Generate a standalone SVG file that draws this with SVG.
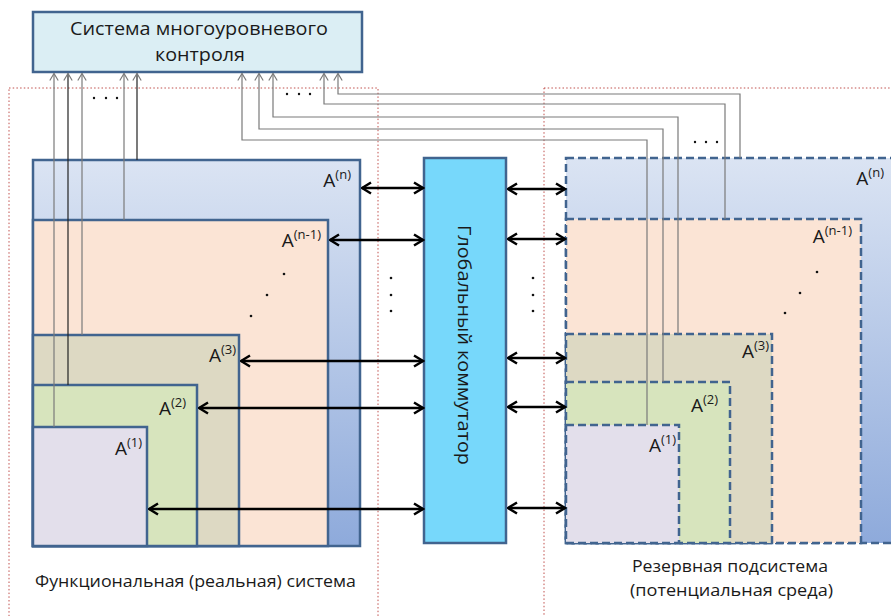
<svg xmlns="http://www.w3.org/2000/svg" width="891" height="616" viewBox="0 0 891 616">
  <style>
    text { font-family: "Open Sans", "Noto Sans", "Liberation Sans", sans-serif; fill: #1a1a1a; }
    .lbl { font-size: 19px; text-anchor: end; }
    .sup { font-size: 13px; }
    .cap { font-size: 16px; }
    .zone { fill: none; stroke: #c0504d; stroke-width: 1; stroke-dasharray: 1.5 2.2; }
    .box { stroke: #41648f; stroke-width: 2.5; }
    .dash { stroke: #41648f; stroke-width: 2.5; stroke-dasharray: 8 4; }
    .tier-n { fill: url(#blueFade); }
    .tier-n1 { fill: #fbe4d5; }
    .tier-3 { fill: #ddd9c3; }
    .tier-2 { fill: #d7e4bd; }
    .tier-1 { fill: #e3dfeb; }
    .link { fill: none; stroke: #000; stroke-width: 2.5; marker-start: url(#chev); marker-end: url(#chev); }
    .feed { fill: none; stroke: #7a7a7a; stroke-width: 1.2; marker-end: url(#tip); }
    .feed.dark { stroke: #222; }
    .dot { fill: #111; }
  </style>
  <defs>
    <linearGradient id="blueFade" x1="0" y1="0" x2="0" y2="1">
      <stop offset="0" stop-color="#dbe4f3"/>
      <stop offset="1" stop-color="#8eaadb"/>
    </linearGradient>
    <marker id="chev" viewBox="0 0 12 14" refX="10.5" refY="7" markerWidth="12" markerHeight="14" markerUnits="userSpaceOnUse" orient="auto-start-reverse">
      <path d="M1.5,1.5 L10.5,7 L1.5,12.5" fill="none" stroke="#000" stroke-width="2.5"/>
    </marker>
    <marker id="tip" viewBox="0 0 9 10" refX="8" refY="5" markerWidth="9" markerHeight="10" markerUnits="userSpaceOnUse" orient="auto">
      <path d="M1,0.8 L8,5 L1,9.2" fill="none" stroke="#7a7a7a" stroke-width="1.2"/>
    </marker>
  </defs>

  <rect width="891" height="616" fill="#fff"/>

  <!-- dotted zones -->
  <g id="zones">
    <rect class="zone" x="9" y="88" width="369" height="600"/>
    <rect class="zone" x="544" y="88" width="420" height="600"/>
  </g>

  <!-- control system -->
  <g id="control">
    <rect x="33" y="12" width="329" height="60" fill="#dbeef4" class="box"/>
    <text x="70" y="35" font-size="19" textLength="258" lengthAdjust="spacingAndGlyphs">Система многоуровневого</text>
    <text x="155" y="61" font-size="19" textLength="90" lengthAdjust="spacingAndGlyphs">контроля</text>
  </g>

  <!-- real system, nested tiers -->
  <g id="real-An">
    <rect class="box tier-n" x="33" y="160" width="327" height="386"/>
    <text class="lbl" x="351" y="187">A<tspan class="sup" dy="-8">(n)</tspan></text>
  </g>
  <g id="real-An1">
    <rect class="box tier-n1" x="33" y="220" width="295" height="326"/>
    <text class="lbl" x="321" y="247">A<tspan class="sup" dy="-8">(n-1)</tspan></text>
    <circle class="dot" cx="284" cy="274" r="1.3"/>
    <circle class="dot" cx="267" cy="295" r="1.3"/>
    <circle class="dot" cx="251" cy="316" r="1.3"/>
  </g>
  <g id="real-A3">
    <rect class="box tier-3" x="33" y="335" width="206" height="211"/>
    <text class="lbl" x="236" y="362">A<tspan class="sup" dy="-8">(3)</tspan></text>
  </g>
  <g id="real-A2">
    <rect class="box tier-2" x="33" y="385" width="164" height="161"/>
    <text class="lbl" x="186" y="415">A<tspan class="sup" dy="-8">(2)</tspan></text>
  </g>
  <g id="real-A1">
    <rect class="box tier-1" x="33" y="427" width="114" height="119"/>
    <text class="lbl" x="142" y="455">A<tspan class="sup" dy="-8">(1)</tspan></text>
  </g>

  <!-- reserve subsystem, nested tiers -->
  <g id="reserve-An">
    <rect class="dash tier-n" x="566" y="158" width="360" height="385"/>
    <text class="lbl" x="884" y="185">A<tspan class="sup" dy="-8">(n)</tspan></text>
  </g>
  <g id="reserve-An1">
    <rect class="dash tier-n1" x="566" y="219" width="295" height="324"/>
    <text class="lbl" x="852" y="243">A<tspan class="sup" dy="-8">(n-1)</tspan></text>
    <circle class="dot" cx="817" cy="272" r="1.3"/>
    <circle class="dot" cx="800" cy="293" r="1.3"/>
    <circle class="dot" cx="785" cy="313" r="1.3"/>
  </g>
  <g id="reserve-A3">
    <rect class="dash tier-3" x="566" y="334" width="206" height="209"/>
    <text class="lbl" x="769" y="358">A<tspan class="sup" dy="-8">(3)</tspan></text>
  </g>
  <g id="reserve-A2">
    <rect class="dash tier-2" x="566" y="382" width="164" height="161"/>
    <text class="lbl" x="718" y="412">A<tspan class="sup" dy="-8">(2)</tspan></text>
  </g>
  <g id="reserve-A1">
    <rect class="dash tier-1" x="566" y="425" width="113" height="118"/>
    <text class="lbl" x="676" y="452">A<tspan class="sup" dy="-8">(1)</tspan></text>
  </g>

  <!-- global switch -->
  <g id="commutator">
    <rect x="424" y="158" width="82" height="385" fill="#77d8fb" class="box"/>
    <text transform="translate(458,345) rotate(90)" font-size="18" text-anchor="middle" textLength="240" lengthAdjust="spacingAndGlyphs">Глобальный коммутатор</text>
  </g>

  <!-- connectors -->
  <g id="connectors">
    <!-- tiers to the switch -->
    <line class="link" x1="362" y1="188" x2="423" y2="188"/>
    <line class="link" x1="330" y1="240" x2="423" y2="240"/>
    <line class="link" x1="241" y1="361" x2="423" y2="361"/>
    <line class="link" x1="199" y1="408" x2="423" y2="408"/>
    <line class="link" x1="149" y1="509" x2="423" y2="509"/>
    <!-- switch to reserve tiers -->
    <line class="link" x1="508" y1="189" x2="565" y2="189"/>
    <line class="link" x1="508" y1="239" x2="565" y2="239"/>
    <line class="link" x1="508" y1="358" x2="565" y2="358"/>
    <line class="link" x1="508" y1="407" x2="565" y2="407"/>
    <line class="link" x1="508" y1="508" x2="565" y2="508"/>

    <!-- monitoring feeds from real tiers -->
    <line class="feed" x1="54" y1="427" x2="54" y2="73.5"/>
    <line class="feed dark" x1="68" y1="385" x2="68" y2="73.5"/>
    <line class="feed" x1="82" y1="335" x2="82" y2="73.5"/>
    <line class="feed" x1="124" y1="220" x2="124" y2="73.5"/>
    <line class="feed dark" x1="137" y1="160" x2="137" y2="73.5"/>

    <!-- monitoring feeds from reserve tiers -->
    <polyline class="feed" points="647,425 647,140 242,140 242,73.5"/>
    <polyline class="feed" points="663,382 663,129 259,129 259,73.5"/>
    <polyline class="feed" points="678,334 678,117 273,117 273,73.5"/>
    <polyline class="feed" points="725,219 725,104 324,104 324,73.5"/>
    <polyline class="feed" points="740,158 740,94 338,94 338,73.5"/>
  </g>

  <!-- ellipses -->
  <g id="ellipses">
    <circle class="dot" cx="94" cy="98" r="1.2"/>
    <circle class="dot" cx="106" cy="98" r="1.2"/>
    <circle class="dot" cx="117" cy="98" r="1.2"/>
    <circle class="dot" cx="287" cy="94" r="1.2"/>
    <circle class="dot" cx="299" cy="94" r="1.2"/>
    <circle class="dot" cx="310" cy="94" r="1.2"/>
    <circle class="dot" cx="695" cy="142" r="1.2"/>
    <circle class="dot" cx="706" cy="142" r="1.2"/>
    <circle class="dot" cx="717" cy="142" r="1.2"/>
    <circle class="dot" cx="391" cy="278" r="1.3"/>
    <circle class="dot" cx="391" cy="295" r="1.3"/>
    <circle class="dot" cx="391" cy="311" r="1.3"/>
    <circle class="dot" cx="533" cy="278" r="1.3"/>
    <circle class="dot" cx="533" cy="295" r="1.3"/>
    <circle class="dot" cx="533" cy="311" r="1.3"/>
  </g>

  <!-- captions -->
  <g id="captions">
    <text class="cap" x="35" y="587" textLength="321" lengthAdjust="spacingAndGlyphs">Функциональная (реальная) система</text>
    <text class="cap" x="632" y="572" textLength="196" lengthAdjust="spacingAndGlyphs">Резервная подсистема</text>
    <text class="cap" x="630" y="596" textLength="203" lengthAdjust="spacingAndGlyphs">(потенциальная среда)</text>
  </g>
</svg>
